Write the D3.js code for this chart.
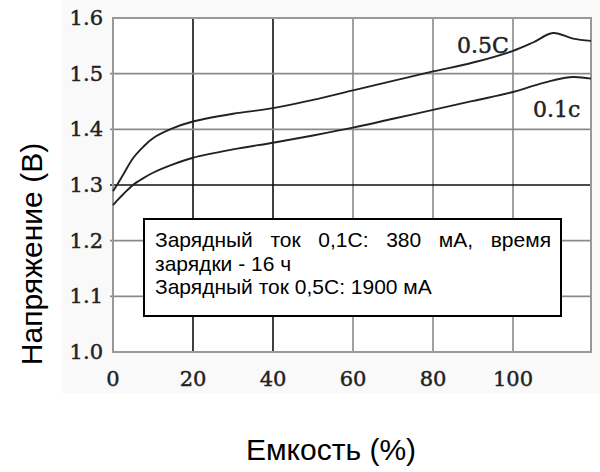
<!DOCTYPE html>
<html>
<head>
  <meta charset="UTF-8">
  <title>Зарядные кривые</title>
  <style>
    body { margin: 0; background: #fff; }
    svg { display: block; }
    .serif { font-family: "DejaVu Serif"; fill: #222; stroke: #222; stroke-width: 0.45px; }
  </style>
</head>
<body>
<svg></svg>
<script src="https://d3js.org/d3.v7.min.js"></script>
<script>
    // Data
    const capacity   = [0, 1, 2.5, 5, 7.5, 10, 15, 20, 30, 40, 50, 60, 70, 80, 90, 100, 105, 110, 115, 119.5];
    const voltage05C = [1.289, 1.300, 1.318, 1.348, 1.368, 1.384, 1.402, 1.414, 1.428, 1.438, 1.453, 1.470, 1.487, 1.504, 1.520, 1.541, 1.556, 1.573, 1.563, 1.559];
    const voltage01C = [1.264, 1.272, 1.283, 1.300, 1.312, 1.322, 1.337, 1.349, 1.364, 1.376, 1.389, 1.403, 1.419, 1.435, 1.451, 1.467, 1.478, 1.488, 1.494, 1.491];
    const xTicks = [0, 20, 40, 60, 80, 100];
    const yTicks = [1.0, 1.1, 1.2, 1.3, 1.4, 1.5, 1.6];
    const darkX = [20, 40];
    const darkY = [1.3];
    const curveLabels = ["0.5C", "0.1c"];
    const noteLines = ["Зарядный ток 0,1С: 380 мА, время", "зарядки - 16 ч", "Зарядный ток 0,5С: 1900 мА"];

    let width = 600, height = 472;
    let svg = d3.select("svg").attr("width", width).attr("height", height);

    let x = d3.scaleLinear().domain([0, 119.5]).range([113, 591]);
    let y = d3.scaleLinear().domain([1.0, 1.6]).range([352, 18]);

    // faint scan background
    svg.append("rect").attr("x", 62).attr("y", 0).attr("width", 538).attr("height", 393)
        .attr("fill", "#f9f9f9");

    svg.append("rect").attr("x", x(0)).attr("y", y(1.6))
        .attr("width", x(119.5) - x(0)).attr("height", y(1.0) - y(1.6))
        .attr("fill", "#fff");

    // grid
    let grid = svg.append("g");
    grid.selectAll("line.gx").data(xTicks.slice(1)).enter().append("line")
        .attr("x1", d => x(d)).attr("x2", d => x(d))
        .attr("y1", y(1.6)).attr("y2", y(1.0))
        .attr("stroke", d => darkX.includes(d) ? "#111" : "#8a8a8a")
        .attr("stroke-width", 1.6);
    grid.selectAll("line.gy").data(yTicks.slice(1, -1)).enter().append("line")
        .attr("x1", x(0) - 3).attr("x2", x(119.5))
        .attr("y1", d => y(d)).attr("y2", d => y(d))
        .attr("stroke", d => darkY.includes(d) ? "#111" : "#8a8a8a")
        .attr("stroke-width", 1.6);

    // frame
    svg.append("rect").attr("x", x(0)).attr("y", y(1.6))
        .attr("width", x(119.5) - x(0)).attr("height", y(1.0) - y(1.6))
        .attr("fill", "none").attr("stroke", "#999").attr("stroke-width", 2);

    // tick labels
    svg.append("g").selectAll("text").data(yTicks).enter().append("text")
        .attr("class", "serif")
        .attr("x", 103).attr("y", d => y(d) + 7)
        .attr("text-anchor", "end")
        .style("font-size", "21px")
        .text(d => d.toFixed(1));
    svg.append("g").selectAll("text").data(xTicks).enter().append("text")
        .attr("class", "serif")
        .attr("x", d => x(d)).attr("y", 386)
        .attr("text-anchor", "middle")
        .style("font-size", "21px")
        .text(d => d);

    // curves
    let line = d3.line().curve(d3.curveCatmullRom);
    [voltage05C, voltage01C].forEach(v => {
        svg.append("path")
            .attr("d", line(capacity.map((c, i) => [x(c), y(v[i])])))
            .attr("fill", "none").attr("stroke", "#222").attr("stroke-width", 1.9);
    });

    svg.append("text").attr("class", "serif").attr("x", 457).attr("y", 53)
        .style("font-size", "22px")
        .text(curveLabels[0]);
    svg.append("text").attr("class", "serif").attr("x", 533).attr("y", 117)
        .style("font-size", "22px")
        .text(curveLabels[1]);

    // note box
    svg.append("rect").attr("x", 144).attr("y", 219).attr("width", 417).attr("height", 97)
        .attr("fill", "#fff").attr("stroke", "#000").attr("stroke-width", 2);
    let note = svg.append("g").selectAll("text").data(noteLines).enter().append("text")
        .attr("x", 155).attr("y", (d, i) => 247 + i * 23.5)
        .style("font-family", "Liberation Sans, Arial").style("font-size", "21px")
        .text(d => d);
    // first line is justified across the box by widening the word gaps
    let first = note.filter((d, i) => i == 0);
    let natural = first.node().getComputedTextLength();
    let gaps = noteLines[0].split(" ").length - 1;
    first.style("word-spacing", ((396 - natural) / gaps) + "px");

    // axis titles
    svg.append("text").attr("x", 331).attr("y", 460).attr("text-anchor", "middle")
        .style("font-family", "Liberation Sans, Arial").style("font-size", "30px")
        .text("Емкость (%)");
    svg.append("text").attr("transform", "translate(42,254) rotate(-90)")
        .attr("text-anchor", "middle")
        .style("font-family", "Liberation Sans, Arial").style("font-size", "30px")
        .text("Напряжение (В)");
</script>
</body>
</html>
